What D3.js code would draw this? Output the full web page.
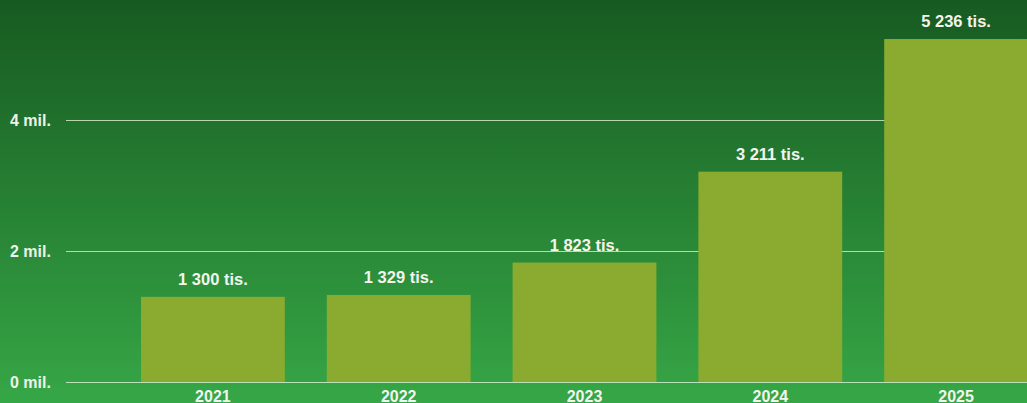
<!DOCTYPE html>
<html><head><meta charset="utf-8">
<script src="https://cdn.jsdelivr.net/npm/d3@7"></script>
<style>html,body{margin:0;padding:0;overflow:hidden;}svg{display:block;}</style>
</head><body>
<script>
const years = ["2021","2022","2023","2024","2025"];
const values = [1300, 1329, 1823, 3211, 5236]; // thousands
const valueLabels = ["1 300 tis.","1 329 tis.","1 823 tis.","3 211 tis.","5 236 tis."];
const ticks = [0, 2000, 4000];
const tickLabels = ["0 mil.","2 mil.","4 mil."];

const W = 1027, H = 403;
const svg = d3.select("body").append("svg").attr("width", W).attr("height", H);
const defs = svg.append("defs");
const g = defs.append("linearGradient").attr("id","bg").attr("x1",0).attr("y1",0).attr("x2",0).attr("y2",1);
g.append("stop").attr("offset","0%").attr("stop-color","#175a21");
g.append("stop").attr("offset","100%").attr("stop-color","#36a746");
svg.append("rect").attr("width",W).attr("height",H).attr("fill","url(#bg)");

const y = d3.scaleLinear().domain([0, 4000]).range([382, 120]);
const x = d3.scaleBand().domain(years).range([120, 1049]).paddingInner(0.226).paddingOuter(0.113);

const font = "'Liberation Sans', Arial, sans-serif";

// grid lines
svg.append("g").selectAll("line").data(ticks).join("line")
  .attr("x1", 66).attr("x2", W)
  .attr("y1", d => Math.round(y(d)) + 0.5).attr("y2", d => Math.round(y(d)) + 0.5)
  .attr("stroke", "rgba(230,245,225,0.75)").attr("stroke-width", 1);

svg.append("g").selectAll("text").data(ticks).join("text")
  .attr("x", 10).attr("y", d => y(d)).attr("dy", "0.35em")
  .attr("fill", "#eef3ea").attr("font-family", font).attr("font-weight", "bold").attr("font-size", 16)
  .text((d,i) => tickLabels[i]);

// bars
svg.append("g").selectAll("rect").data(values).join("rect")
  .attr("x", (d,i) => x(years[i])).attr("width", x.bandwidth())
  .attr("y", d => y(d)).attr("height", d => y(0) - y(d))
  .attr("fill", "#8aab2f");

// value labels
svg.append("g").selectAll("text").data(values).join("text")
  .attr("x", (d,i) => x(years[i]) + x.bandwidth()/2).attr("y", d => y(d) - 12)
  .attr("text-anchor", "middle")
  .attr("fill", "#f2f5ef").attr("font-family", font).attr("font-weight", "bold").attr("font-size", 16.5)
  .text((d,i) => valueLabels[i]);

// year labels
svg.append("g").selectAll("text").data(years).join("text")
  .attr("x", d => x(d) + x.bandwidth()/2).attr("y", 402)
  .attr("text-anchor", "middle")
  .attr("fill", "#f2f5ef").attr("font-family", font).attr("font-weight", "bold").attr("font-size", 16)
  .text(d => d);
</script>
</body></html>
